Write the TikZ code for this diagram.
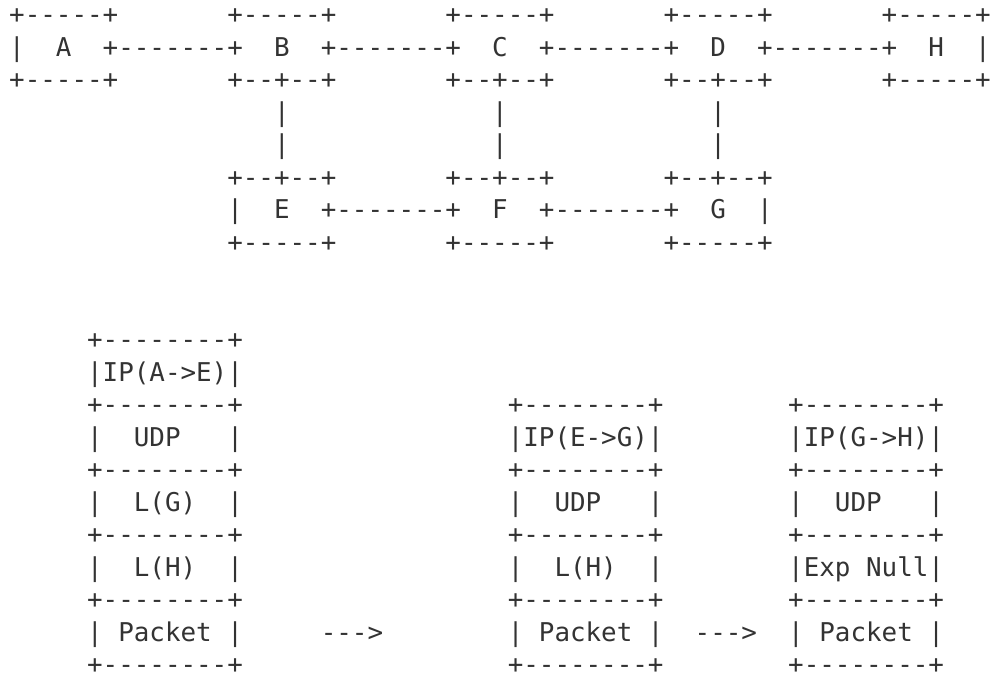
\documentclass[tikz,border=0pt]{standalone}
\usepackage{fontspec}
\setmonofont{DejaVu Sans Mono}
\definecolor{ink}{HTML}{333333}
% \seg{row}{column}{characters}: one run of characters of the ASCII drawing
\newcommand\seg[3]{\node[asciiline] (s-#1-#2) at ({9.2+15.58*#2},{682.5-32.5*#1}) {#3};}
\begin{document}
\begin{tikzpicture}[x=1pt,y=1pt,
  asciiline/.style={anchor=base west, inner sep=0pt, outer sep=0pt, text=ink,
    text depth=0pt, font=\ttfamily\fontsize{25.88}{32.5}\selectfont}]
\useasboundingbox (0,0) rectangle (990,674);
% ---- upper network ----
\foreach \c in {0,14,28,42,56} {\seg{1}{\c}{+-----+}}
\seg{2}{0}{|}
\seg{2}{3}{A}
\seg{2}{6}{+-------+}
\seg{2}{17}{B}
\seg{2}{20}{+-------+}
\seg{2}{31}{C}
\seg{2}{34}{+-------+}
\seg{2}{45}{D}
\seg{2}{48}{+-------+}
\seg{2}{59}{H}
\seg{2}{62}{|}
\seg{3}{0}{+-----+}
\foreach \c in {14,28,42} {\seg{3}{\c}{+--+--+}}
\seg{3}{56}{+-----+}
\foreach \r in {4,5} {\foreach \c in {17,31,45} {\seg{\r}{\c}{|}}}
\foreach \c in {14,28,42} {\seg{6}{\c}{+--+--+}}
\seg{7}{14}{|}
\seg{7}{17}{E}
\seg{7}{20}{+-------+}
\seg{7}{31}{F}
\seg{7}{34}{+-------+}
\seg{7}{45}{G}
\seg{7}{48}{|}
\foreach \c in {14,28,42} {\seg{8}{\c}{+-----+}}
% ---- packet stacks ----
\seg{11}{5}{+--------+}
\seg{12}{5}{|IP(A->E)|}
\foreach \r in {13,15,17,19,21} {\foreach \c in {5,32,50} {\seg{\r}{\c}{+--------+}}}
\seg{14}{5}{|}
\seg{14}{8}{UDP}
\seg{14}{14}{|}
\seg{14}{32}{|IP(E->G)|}
\seg{14}{50}{|IP(G->H)|}
\seg{16}{5}{|}
\seg{16}{8}{L(G)}
\seg{16}{14}{|}
\seg{16}{32}{|}
\seg{16}{35}{UDP}
\seg{16}{41}{|}
\seg{16}{50}{|}
\seg{16}{53}{UDP}
\seg{16}{59}{|}
\seg{18}{5}{|}
\seg{18}{8}{L(H)}
\seg{18}{14}{|}
\seg{18}{32}{|}
\seg{18}{35}{L(H)}
\seg{18}{41}{|}
\seg{18}{50}{|Exp}
\seg{18}{55}{Null|}
\seg{20}{5}{|}
\seg{20}{7}{Packet}
\seg{20}{14}{|}
\seg{20}{20}{--->}
\seg{20}{32}{|}
\seg{20}{34}{Packet}
\seg{20}{41}{|}
\seg{20}{44}{--->}
\seg{20}{50}{|}
\seg{20}{52}{Packet}
\seg{20}{59}{|}
\end{tikzpicture}
\end{document}
